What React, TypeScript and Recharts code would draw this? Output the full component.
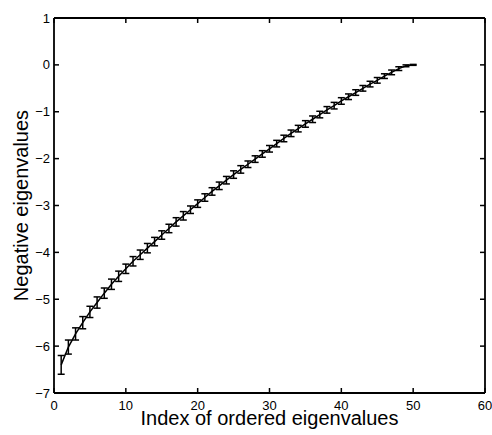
import React from 'react';
import { LineChart, Line, XAxis, YAxis, ErrorBar, Label, CartesianGrid } from 'recharts';

// Index of each ordered eigenvalue
const indices = [
  1, 2, 3, 4, 5, 6, 7, 8, 9, 10,
  11, 12, 13, 14, 15, 16, 17, 18, 19, 20,
  21, 22, 23, 24, 25, 26, 27, 28, 29, 30,
  31, 32, 33, 34, 35, 36, 37, 38, 39, 40,
  41, 42, 43, 44, 45, 46, 47, 48, 49, 50,
];

// Mean (negative) eigenvalue at each index
const means = [
  -6.40, -6.02, -5.74, -5.50, -5.27, -5.07, -4.87, -4.68, -4.51, -4.35,
  -4.19, -4.05, -3.91, -3.77, -3.63, -3.49, -3.35, -3.22, -3.09, -2.96,
  -2.83, -2.70, -2.58, -2.46, -2.34, -2.23, -2.12, -2.01, -1.90, -1.79,
  -1.68, -1.57, -1.46, -1.36, -1.26, -1.16, -1.06, -0.96, -0.87, -0.77,
  -0.68, -0.59, -0.50, -0.41, -0.33, -0.24, -0.16, -0.08, -0.02, 0.0,
];

// Half-length of each error bar
const errs = [
  0.20, 0.15, 0.13, 0.13, 0.12, 0.12, 0.11, 0.11, 0.11, 0.10,
  0.10, 0.10, 0.10, 0.09, 0.09, 0.09, 0.09, 0.09, 0.08, 0.08,
  0.08, 0.08, 0.08, 0.08, 0.08, 0.08, 0.07, 0.07, 0.07, 0.07,
  0.07, 0.07, 0.07, 0.07, 0.07, 0.07, 0.07, 0.07, 0.07, 0.07,
  0.06, 0.06, 0.06, 0.06, 0.06, 0.05, 0.05, 0.04, 0.02, 0.01,
];

const xTicks = [0, 10, 20, 30, 40, 50, 60];
const yTicks = [-7, -6, -5, -4, -3, -2, -1, 0, 1];
const X_DOMAIN = [0, 60];
const Y_DOMAIN = [-7, 1];

const data = indices.map((idx, k) => ({ idx, value: means[k], err: errs[k] }));

const FONT = '"Liberation Sans", Arial, Helvetica, sans-serif';
const TICK_LEN = 5;
const TICK_W = 1.5;
const FRAME_W = 1.8;
const LEFT_GAP = 4;
const BOTTOM_GAP = 7;
const TICK_FONT = 13;
const LABEL_FONT = 20;

// Layout of the plotting box inside the 492 x 435 surface
const CHART_W = 492;
const CHART_H = 435;
const MARGIN = { top: 18, right: 7, left: 0, bottom: 0 };
const Y_AXIS_W = 54;
const X_AXIS_H = 42;
const PLOT_TOP = MARGIN.top;
const PLOT_RIGHT = CHART_W - MARGIN.right;

const fmt = (v: number) => (v < 0 ? `\u2212${Math.abs(v)}` : `${v}`);

// Left tick: label outside, inward tick marks on the left and right edges of the box
function LeftTick(props: any) {
  const { x, y, payload } = props;
  const ax = x + LEFT_GAP;
  return (
    <g>
      <line x1={ax} x2={ax + TICK_LEN} y1={y} y2={y} stroke="#000" strokeWidth={TICK_W} />
      <line x1={PLOT_RIGHT} x2={PLOT_RIGHT - TICK_LEN} y1={y} y2={y} stroke="#000" strokeWidth={TICK_W} />
      <text x={x} y={y + 4.5} textAnchor="end" fontSize={TICK_FONT} fontFamily={FONT} fill="#000">
        {fmt(payload.value)}
      </text>
    </g>
  );
}

// Bottom tick: label outside, inward tick marks on the bottom and top edges of the box
function BottomTick(props: any) {
  const { x, y, payload } = props;
  const ay = y - BOTTOM_GAP;
  return (
    <g>
      <line x1={x} x2={x} y1={ay} y2={ay - TICK_LEN} stroke="#000" strokeWidth={TICK_W} />
      <line x1={x} x2={x} y1={PLOT_TOP} y2={PLOT_TOP + TICK_LEN} stroke="#000" strokeWidth={TICK_W} />
      <text x={x} y={y + 9.5} textAnchor="middle" fontSize={TICK_FONT} fontFamily={FONT} fill="#000">
        {fmt(payload.value)}
      </text>
    </g>
  );
}

const axisLine = { stroke: '#000', strokeWidth: FRAME_W };

export default function App() {
  return (
    <div style={{ width: CHART_W, height: CHART_H, background: '#fff' }}>
      <style>{'html, body { margin: 0; padding: 0; background: #fff; }'}</style>
      <LineChart width={CHART_W} height={CHART_H} data={data} margin={MARGIN}>
        {/* top and right edges of the box */}
        <CartesianGrid
          stroke="#000"
          strokeWidth={FRAME_W}
          horizontalCoordinatesGenerator={(p: any) => [p.offset.top]}
          verticalCoordinatesGenerator={(p: any) => [p.offset.left + p.offset.width]}
        />
        <XAxis
          dataKey="idx"
          type="number"
          domain={X_DOMAIN}
          ticks={xTicks}
          interval={0}
          height={X_AXIS_H}
          tickSize={0}
          tickMargin={BOTTOM_GAP}
          tickLine={false}
          axisLine={axisLine}
          tick={<BottomTick />}
        >
          <Label
            content={(p: any) => {
              const vb = p.viewBox || {};
              return (
                <text x={vb.x + vb.width / 2} y={425} textAnchor="middle" fontSize={LABEL_FONT} fontFamily={FONT} fill="#000">
                  Index of ordered eigenvalues
                </text>
              );
            }}
          />
        </XAxis>
        <YAxis
          type="number"
          domain={Y_DOMAIN}
          ticks={yTicks}
          interval={0}
          width={Y_AXIS_W}
          tickSize={0}
          tickMargin={LEFT_GAP}
          tickLine={false}
          axisLine={axisLine}
          tick={<LeftTick />}
          allowDataOverflow
        >
          <Label
            content={(p: any) => {
              const vb = p.viewBox || {};
              const cx = 21;
              const cy = vb.y + vb.height / 2;
              return (
                <text x={cx} y={cy} transform={`rotate(-90, ${cx}, ${cy})`} textAnchor="middle" dominantBaseline="central" fontSize={LABEL_FONT} fontFamily={FONT} fill="#000">
                  Negative eigenvalues
                </text>
              );
            }}
          />
        </YAxis>
        <Line dataKey="value" type="linear" stroke="#000" strokeWidth={1.5} dot={false} isAnimationActive={false}>
          <ErrorBar dataKey="err" direction="y" width={3.5} stroke="#000" strokeWidth={1.5} isAnimationActive={false} />
        </Line>
      </LineChart>
    </div>
  );
}
